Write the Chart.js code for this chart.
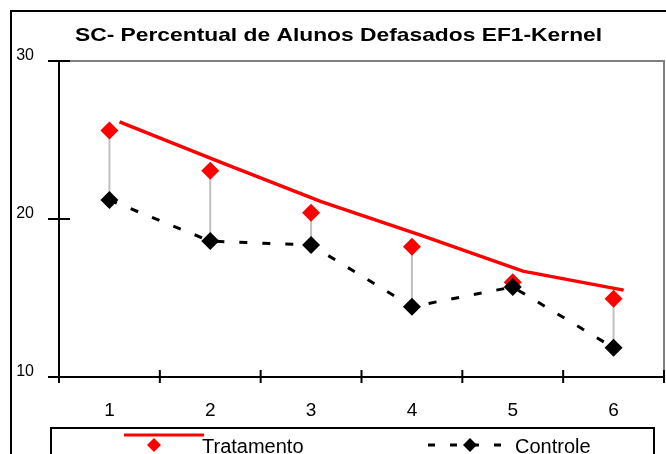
<!DOCTYPE html>
<html>
<head>
<meta charset="utf-8">
<script src="https://cdn.jsdelivr.net/npm/chart.js@4.4.0/dist/chart.umd.min.js"></script>
<style>
html, body { margin: 0; padding: 0; background: #fff; }
canvas { display: block; }
</style>
</head>
<body>
<canvas id="chart-sc" width="666" height="454"></canvas>
<script>
// SC - percentual de alunos defasados (EF1)
var categorias = ['1', '2', '3', '4', '5', '6'];
var tratamento = [25.6, 23.05, 20.4, 18.25, 16.0, 14.95];
var controle = [21.2, 18.6, 18.35, 14.45, 15.7, 11.85];
// curva kernel do tratamento
var kernelX = [1.1, 2.1, 3.1, 4.1, 5.1, 6.1];
var kernel = [26.15, 23.6, 21.1, 18.95, 16.7, 15.5];
var yTicks = [10, 20, 30];

var titulo = 'SC- Percentual de Alunos Defasados EF1-Kernel';
var fonte = '"Liberation Sans", Arial, sans-serif';

function pontos(ys) {
    return ys.map(function(v, i) {
        return { x: Number(categorias[i]), y: v };
    });
}

// linhas verticais ligando controle e tratamento
var linhasHL = categorias.map(function(c, i) {
    return {
        label: 'hl' + c,
        data: [{ x: Number(c), y: controle[i] }, { x: Number(c), y: tratamento[i] }],
        borderColor: '#c0c0c0',
        borderWidth: 2,
        pointRadius: 0,
        order: 4
    };
});

function losango(ctx, x, y, r, cor) {
    ctx.fillStyle = cor;
    ctx.beginPath();
    ctx.moveTo(x, y - r);
    ctx.lineTo(x + r, y);
    ctx.lineTo(x, y + r);
    ctx.lineTo(x - r, y);
    ctx.closePath();
    ctx.fill();
}

var moldura = {
    id: 'moldura',
    beforeDraw: function(chart) {
        var ctx = chart.ctx;
        ctx.save();
        ctx.fillStyle = '#fff';
        ctx.fillRect(0, 0, chart.width, chart.height);
        ctx.strokeStyle = '#000';
        ctx.lineWidth = 2;
        ctx.strokeRect(11, 11, 720, 520);
        // titulo
        ctx.fillStyle = '#000';
        ctx.font = 'bold 19px ' + fonte;
        ctx.textBaseline = 'alphabetic';
        ctx.textAlign = 'left';
        ctx.translate(75, 41);
        ctx.scale(1.2, 1);
        ctx.fillText(titulo, 0, 0);
        ctx.restore();
    },
    beforeDatasetsDraw: function(chart) {
        var ctx = chart.ctx, a = chart.chartArea;
        var xs = chart.scales.x, ys = chart.scales.y;
        ctx.save();
        ctx.lineWidth = 2;
        ctx.strokeStyle = '#808080';
        ctx.beginPath();
        ctx.moveTo(a.left, a.top);
        ctx.lineTo(a.right, a.top);
        ctx.lineTo(a.right, a.bottom);
        ctx.stroke();
        ctx.strokeStyle = '#000';
        ctx.beginPath();
        ctx.moveTo(a.left, a.top);
        ctx.lineTo(a.left, a.bottom + 6);
        ctx.moveTo(a.left - 11, a.bottom);
        ctx.lineTo(a.right, a.bottom);
        yTicks.forEach(function(v) {
            var y = ys.getPixelForValue(v);
            ctx.moveTo(a.left - 11, y);
            ctx.lineTo(a.left + 11, y);
        });
        for (var k = 0; k <= categorias.length; k++) {
            var x = xs.getPixelForValue(Number(categorias[0]) - 0.5 + k);
            ctx.moveTo(x, a.bottom - 7);
            ctx.lineTo(x, a.bottom + 6);
        }
        ctx.stroke();
        ctx.restore();
    },
    afterDraw: function(chart) {
        var ctx = chart.ctx;
        ctx.save();
        ctx.strokeStyle = '#000';
        ctx.lineWidth = 2;
        ctx.strokeRect(51, 428, 603, 60);
        // Tratamento
        ctx.strokeStyle = '#ff0000';
        ctx.lineWidth = 3;
        ctx.beginPath();
        ctx.moveTo(124, 435);
        ctx.lineTo(204, 435);
        ctx.stroke();
        losango(ctx, 154, 445, 7, '#ff0000');
        // Controle
        ctx.strokeStyle = '#000';
        ctx.setLineDash([7, 15]);
        ctx.beginPath();
        ctx.moveTo(428, 445);
        ctx.lineTo(508, 445);
        ctx.stroke();
        ctx.setLineDash([]);
        losango(ctx, 470, 445, 7, '#000');
        ctx.fillStyle = '#000';
        ctx.font = '20px ' + fonte;
        ctx.textBaseline = 'alphabetic';
        ctx.fillText('Tratamento', 202, 453);
        ctx.fillText('Controle', 515, 453);
        ctx.restore();
    }
};

var ctx = document.getElementById('chart-sc').getContext('2d');
var myChart = new Chart(ctx, {
    type: 'line',
    data: {
        datasets: [{
            label: 'Controle',
            data: pontos(controle),
            borderColor: '#000',
            borderWidth: 3,
            borderDash: [8, 15],
            pointStyle: 'rectRot',
            pointRadius: 9,
            pointBorderWidth: 0,
            pointBackgroundColor: '#000',
            order: 0
        },
        {
            label: 'Tratamento',
            data: pontos(tratamento),
            showLine: false,
            pointStyle: 'rectRot',
            pointRadius: 9,
            pointBorderWidth: 0,
            pointBackgroundColor: '#ff0000',
            order: 1
        },
        {
            label: 'Kernel',
            data: kernelX.map(function(x, i) { return { x: x, y: kernel[i] }; }),
            borderColor: '#ff0000',
            borderWidth: 3.5,
            pointRadius: 0,
            order: 2
        }].concat(linhasHL)
    },
    options: {
        responsive: false,
        animation: false,
        layout: {
            autoPadding: false,
            padding: { left: 9, right: 2, top: 61, bottom: 27 }
        },
        plugins: {
            legend: { display: false },
            tooltip: { enabled: false }
        },
        scales: {
            x: {
                type: 'linear',
                min: 0.5,
                max: 6.5,
                grid: { display: false, drawTicks: false },
                border: { display: false },
                afterBuildTicks: function(s) {
                    s.ticks = categorias.map(function(c) { return { value: Number(c) }; });
                },
                afterFit: function(s) {
                    s.height = 50;
                    s.paddingLeft = 0;
                    s.paddingRight = 0;
                },
                ticks: {
                    color: '#000',
                    padding: 22,
                    font: { family: fonte, size: 19 },
                    callback: function(v, i) { return categorias[i]; }
                }
            },
            y: {
                min: 10,
                max: 30,
                grid: { display: false, drawTicks: false },
                border: { display: false },
                afterBuildTicks: function(s) {
                    s.ticks = yTicks.map(function(v) { return { value: v }; });
                },
                afterFit: function(s) {
                    s.width = 50;
                    s.paddingTop = 0;
                    s.paddingBottom = 0;
                },
                ticks: {
                    color: '#000',
                    padding: 25,
                    labelOffset: -5,
                    font: { family: fonte, size: 16 }
                }
            }
        }
    },
    plugins: [moldura]
});
</script>
</body>
</html>
